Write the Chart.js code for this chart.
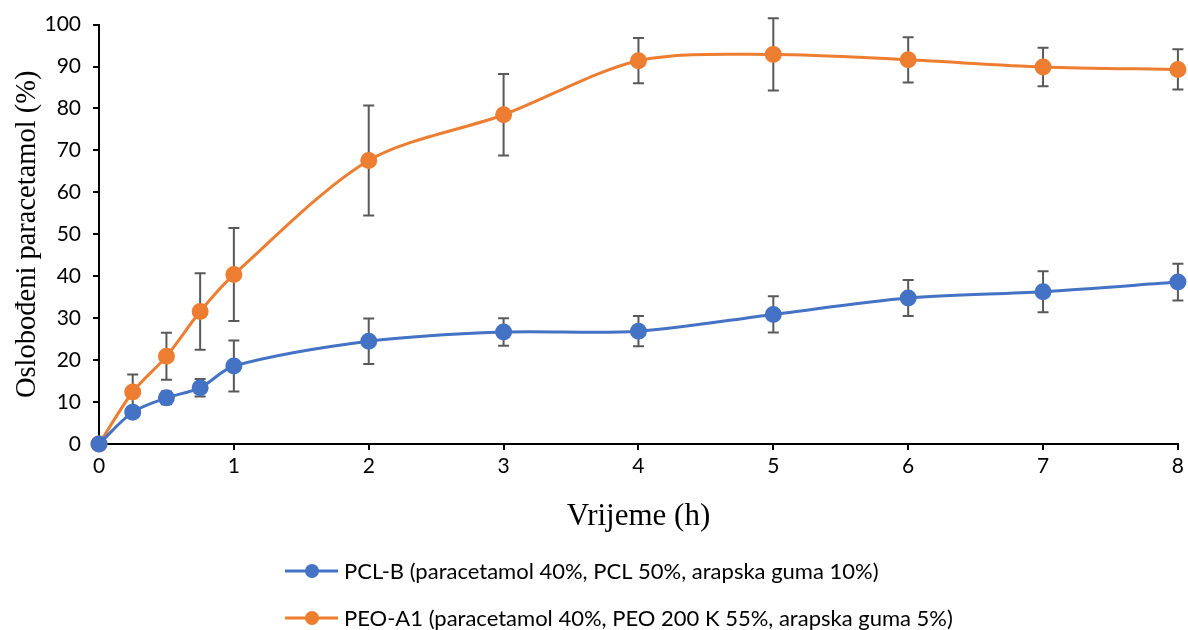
<!DOCTYPE html>
<html lang="hr">
<head>
<meta charset="UTF-8">
<title>Oslobođeni paracetamol</title>
<script src="https://cdn.jsdelivr.net/npm/chart.js@4"></script>
<style>
  * { margin: 0; padding: 0; box-sizing: border-box; }
  body { background: #fff; width: 1188px; height: 630px; overflow: hidden; }
  #wrap { position: relative; width: 1188px; height: 630px; }
</style>
</head>
<body>
<div id="wrap"><canvas id="chart" width="1188" height="630"></canvas></div>
<script>
// vrijeme uzorkovanja (h)
const times = [0, 0.25, 0.5, 0.75, 1, 2, 3, 4, 5, 6, 7, 8];

// PCL-B: srednja vrijednost i SD (%)
const pclLabel = 'PCL-B (paracetamol 40%, PCL 50%, arapska guma 10%)';
const pclMean = [0, 7.6, 11.0, 13.4, 18.6, 24.5, 26.7, 26.9, 30.9, 34.8, 36.3, 38.6];
const pclSd   = [0, 1.2, 1.5, 2.1, 6.1, 5.4, 3.3, 3.6, 4.3, 4.3, 4.9, 4.4];

// PEO-A1: srednja vrijednost i SD (%)
const peoLabel = 'PEO-A1 (paracetamol 40%, PEO 200 K 55%, arapska guma 5%)';
const peoMean = [0, 12.4, 20.9, 31.6, 40.4, 67.6, 78.5, 91.4, 92.9, 91.6, 89.9, 89.3];
const peoSd   = [0, 4.2, 5.6, 9.1, 11.1, 13.1, 9.7, 5.4, 8.6, 5.4, 4.6, 4.8];

const BLUE = '#4472C4';
const ORANGE = '#ED7D31';

const toPoints = (ys) => times.map((t, i) => ({ x: t, y: ys[i] }));

// okomite trake pogreške (± SD) ispod linija i točaka
const errorBars = {
  id: 'errorBars',
  beforeDatasetsDraw(chart) {
    const { ctx, scales: { x, y } } = chart;
    ctx.save();
    ctx.strokeStyle = '#595959';
    ctx.lineWidth = 2;
    chart.data.datasets.forEach(ds => {
      ds.data.forEach((p, i) => {
        const sd = ds.errors[i];
        if (!sd) return;
        const px = x.getPixelForValue(p.x);
        const top = y.getPixelForValue(p.y + sd);
        const bot = y.getPixelForValue(p.y - sd);
        ctx.beginPath();
        ctx.moveTo(px, top); ctx.lineTo(px, bot);
        ctx.moveTo(px - 5.5, top); ctx.lineTo(px + 5.5, top);
        ctx.moveTo(px - 5.5, bot); ctx.lineTo(px + 5.5, bot);
        ctx.stroke();
      });
    });
    ctx.restore();
  }
};

// legenda ispod grafa, jedna stavka po retku
const bottomLegend = {
  id: 'bottomLegend',
  afterDraw(chart) {
    const { ctx } = chart;
    ctx.save();
    ctx.font = '22px Lato, "Open Sans", sans-serif';
    ctx.textBaseline = 'middle';
    const rows = [571, 618];
    chart.data.datasets.forEach((ds, i) => {
      const yy = rows[i];
      ctx.strokeStyle = ds.borderColor;
      ctx.lineWidth = 3;
      ctx.beginPath();
      ctx.moveTo(285, yy); ctx.lineTo(338, yy);
      ctx.stroke();
      ctx.fillStyle = ds.borderColor;
      ctx.beginPath();
      ctx.arc(312, yy, 7, 0, Math.PI * 2);
      ctx.fill();
      ctx.fillStyle = '#000';
      ctx.fillText(ds.label, 344, yy + 1);
    });
    ctx.restore();
  }
};

const tickFont = { family: 'Lato, "Open Sans", sans-serif', size: 21 };
const serif = '"Liberation Serif", "DejaVu Serif", serif';

new Chart(document.getElementById('chart'), {
  type: 'line',
  data: {
    datasets: [
      {
        label: pclLabel,
        data: toPoints(pclMean),
        errors: pclSd,
        borderColor: BLUE,
        backgroundColor: BLUE,
        borderWidth: 3,
        pointRadius: 7,
        pointHoverRadius: 7,
        tension: 0.3
      },
      {
        label: peoLabel,
        data: toPoints(peoMean),
        errors: peoSd,
        borderColor: ORANGE,
        backgroundColor: ORANGE,
        borderWidth: 3,
        pointRadius: 7,
        pointHoverRadius: 7,
        tension: 0.3
      }
    ]
  },
  options: {
    responsive: false,
    animation: false,
    clip: false,
    layout: { padding: { left: 0, right: 10, top: 21, bottom: 95 } },
    plugins: {
      legend: { display: false },
      tooltip: { enabled: false }
    },
    scales: {
      x: {
        type: 'linear',
        min: 0,
        max: 8,
        afterFit: s => { s.height = 91; },
        border: { display: true, color: '#000', width: 2 },
        grid: { display: true, drawOnChartArea: false, drawTicks: true, tickLength: 6, color: '#000', lineWidth: 2 },
        ticks: { stepSize: 1, color: '#000', font: tickFont, padding: 4, maxRotation: 0 },
        title: { display: true, text: 'Vrijeme (h)', color: '#000', font: { family: serif, size: 31 }, padding: { top: 8, bottom: 0 } }
      },
      y: {
        min: 0,
        max: 100,
        afterFit: s => { s.width = 99; },
        border: { display: true, color: '#000', width: 2 },
        grid: { display: true, drawOnChartArea: false, drawTicks: true, tickLength: 6, color: '#000', lineWidth: 2 },
        ticks: { stepSize: 10, color: '#000', font: tickFont, padding: 12 },
        title: { display: true, text: 'Oslobođeni paracetamol (%)', color: '#000', font: { family: serif, size: 28.5 }, padding: { top: 10, bottom: 4 } }
      }
    }
  },
  plugins: [errorBars, bottomLegend]
});
</script>
</body>
</html>
